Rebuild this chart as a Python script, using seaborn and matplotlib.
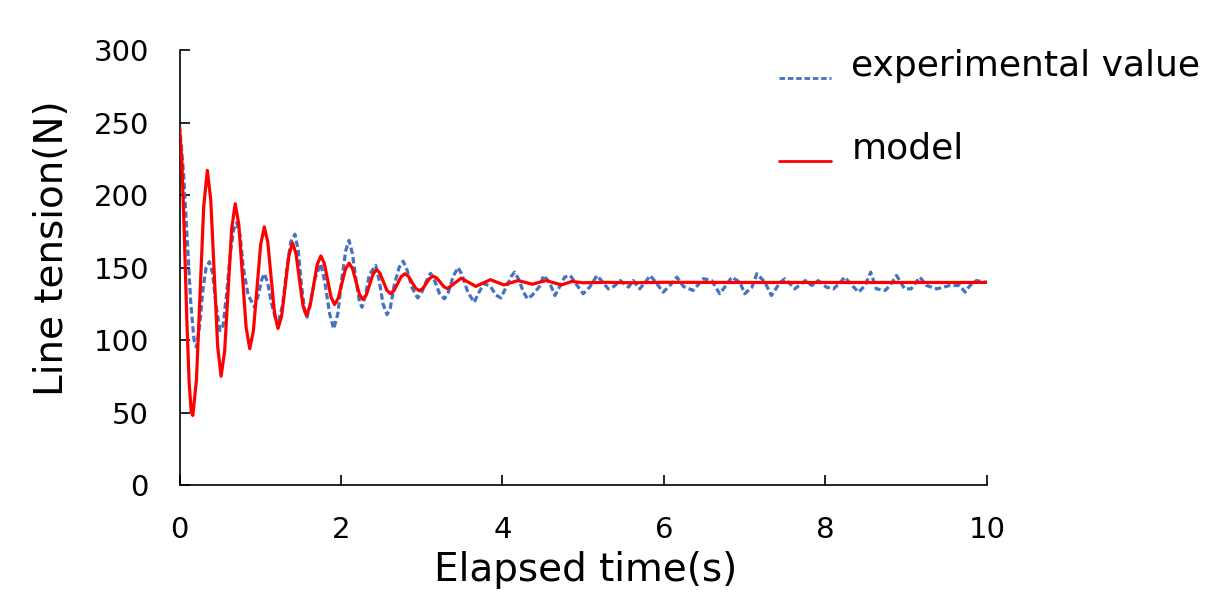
import numpy as np
import pandas as pd
import matplotlib
import matplotlib.pyplot as plt
import matplotlib.transforms as mtransforms
import seaborn as sns

matplotlib.use('Agg')

# model curve (time s, tension N)
model_t = [0.000, 0.030, 0.060, 0.090, 0.120, 0.145, 0.165,
           0.210, 0.255, 0.300, 0.345,
           0.3875, 0.430, 0.4725, 0.515,
           0.559, 0.6025, 0.646, 0.690,
           0.735, 0.780, 0.825, 0.870,
           0.915, 0.960, 1.005, 1.050,
           1.0925, 1.135, 1.1775, 1.220,
           1.265, 1.310, 1.355, 1.400,
           1.4425, 1.485, 1.5275, 1.570,
           1.615, 1.660, 1.705, 1.750,
           1.7925, 1.835, 1.8775, 1.920,
           1.965, 2.010, 2.055, 2.100,
           2.1425, 2.185, 2.2275, 2.270,
           2.3125, 2.355, 2.3975, 2.440,
           2.4825, 2.525, 2.5675, 2.610,
           2.655, 2.700, 2.745, 2.790,
           2.835, 2.880, 2.925, 2.970,
           3.0125, 3.055, 3.0975, 3.140,
           3.185, 3.230, 3.275, 3.320,
           3.405, 3.490, 3.580, 3.670, 3.760, 3.850, 3.935, 4.020,
           4.105, 4.190, 4.280, 4.370, 4.455, 4.540, 4.635, 4.730,
           4.795, 4.860, 5.000, 5.300, 5.600, 6.000, 7.000, 8.000, 9.000, 10.000]
model_n = [247, 222, 172, 115, 70, 51, 48,
           72.7, 132.5, 192.3, 217,
           196.3, 146, 95.7, 75,
           92.4, 134.5, 176.6, 194,
           179.4, 144, 108.6, 94,
           106.3, 136, 165.7, 178,
           167.8, 143, 118.2, 108,
           116.6, 137.5, 158.4, 167,
           159.7, 142, 124.3, 117,
           123, 137.5, 152, 158,
           153.1, 141.2, 129.4, 124.5,
           128.7, 138.8, 148.8, 153,
           149.3, 140.5, 131.7, 128,
           131, 138.2, 145.5, 148.5,
           146.1, 140.2, 134.4, 132,
           134, 138.8, 143.7, 145.7,
           144, 139.8, 135.7, 134,
           135.5, 139, 142.5, 144,
           142.8, 139.8, 136.7, 135.5,
           139.1, 142.7, 139.8, 137, 139.3, 141.6, 139.8, 138,
           139.5, 141, 139.8, 138.5, 139.8, 141, 139.5, 138,
           139.2, 140.4, 139.5, 139.8, 139.5, 139.8, 139.7, 139.7, 139.7, 139.7]

# measured tension
exp_t = [0.00, 0.05, 0.10, 0.14, 0.18, 0.21, 0.25, 0.29, 0.33, 0.37,
         0.41, 0.45, 0.50, 0.54, 0.58, 0.63, 0.67, 0.71, 0.75, 0.79,
         0.85, 0.93, 0.98, 1.02, 1.05, 1.09, 1.14, 1.19, 1.23, 1.28,
         1.33, 1.38, 1.43, 1.47, 1.51, 1.55, 1.58, 1.63, 1.68, 1.75,
         1.80, 1.86, 1.91, 1.96, 2.01, 2.06, 2.10, 2.14, 2.19, 2.23,
         2.26, 2.30, 2.35, 2.43, 2.47, 2.52, 2.57, 2.61, 2.66, 2.72,
         2.77, 2.82, 2.88, 2.95, 3.00, 3.05, 3.11, 3.16, 3.22, 3.28,
         3.33, 3.39, 3.45, 3.50, 3.57, 3.65, 3.70, 3.77, 3.85, 3.92,
         3.98, 4.05, 4.11, 4.15, 4.20, 4.26, 4.31, 4.37, 4.46, 4.51,
         4.58, 4.65, 4.71, 4.77, 4.84, 4.92, 5.00, 5.08, 5.17, 5.24,
         5.31, 5.38, 5.46, 5.56, 5.62, 5.70, 5.77, 5.83, 5.91, 5.99,
         6.08, 6.16, 6.24, 6.36, 6.49, 6.59, 6.69, 6.76, 6.84, 6.94,
         7.00, 7.09, 7.15, 7.25, 7.33, 7.44, 7.50, 7.62, 7.75, 7.83,
         7.91, 8.01, 8.10, 8.17, 8.24, 8.31, 8.41, 8.49, 8.56, 8.63,
         8.74, 8.80, 8.88, 8.98, 9.06, 9.17, 9.25, 9.38, 9.54, 9.66,
         9.73, 9.79, 9.87, 9.98, 10.00]
exp_n = [248, 215, 165, 125, 100, 95, 110, 135, 150, 154,
         146, 125, 106.5, 110, 130, 160, 176, 181, 172, 150,
         131, 122.6, 132, 142, 145.7, 140, 125, 115, 113.4, 125,
         150, 168, 173, 162, 138, 120, 115.7, 128, 143, 152.6,
         140, 118, 107.7, 118, 142, 162, 168.7, 160, 140, 126,
         122.6, 130, 145, 151.5, 142, 125, 117.5, 122, 138, 150,
         154.4, 148, 136, 129, 133, 140, 146, 141, 132, 128.4,
         133, 144, 150, 145, 133, 126, 132, 139, 137, 131,
         129, 137, 144, 146.8, 142, 133, 128.4, 131, 137, 144.5,
         140, 130.7, 137, 143.4, 144.5, 138, 131.9, 136.5, 144.5, 140,
         135.3, 137, 141, 136.5, 141, 135.3, 140, 144.5, 139, 133,
         138, 143.4, 137, 134.2, 142.3, 141, 131.9, 137, 143.4, 139.9,
         131.9, 136.5, 145.7, 139.9, 130.7, 139.9, 142.3, 135.3, 141, 137.6,
         141, 136.5, 135.3, 139, 143.4, 138.8, 133, 137.6, 146.8, 135.3,
         134.2, 137.6, 144.5, 135.3, 135.3, 143.4, 137.6, 135.3, 137.6, 137.6,
         133, 137.6, 141, 139.9, 140]

y_ticks = [0, 50, 100, 150, 200, 250, 300]
x_ticks = [0, 2, 4, 6, 8, 10]

sns.set_style('white')
plt.rcParams['font.family'] = ['DejaVu Sans']
plt.rcParams['text.color'] = 'black'
plt.rcParams['axes.labelcolor'] = 'black'

fig = plt.figure(figsize=(12.32, 5.92), dpi=100)
ax = fig.add_axes([0.1457, 0.1807, 0.6554, 0.7348])

df_exp = pd.DataFrame({'t': exp_t, 'n': exp_n})
df_mod = pd.DataFrame({'t': model_t, 'n': model_n})

sns.lineplot(data=df_exp, x='t', y='n', ax=ax, color='#4472C4', linewidth=2.3,
             label='experimental value', zorder=2)
ax.lines[-1].set_dashes((2.0, 1.0))
sns.lineplot(data=df_mod, x='t', y='n', ax=ax, color='#FF0000', linewidth=2.3,
             label='model', zorder=3)

ax.set_xlim(0, 10)
ax.set_ylim(0, 300)
ax.set_xticks(x_ticks)
ax.set_yticks(y_ticks)
ax.tick_params(direction='in', length=7, width=1.2, colors='black',
               labelsize=21, bottom=True, left=True)
ax.tick_params(axis='y', pad=22)
ax.tick_params(axis='x', pad=22)
for s in ['top', 'right']:
    ax.spines[s].set_visible(False)
for s in ['left', 'bottom']:
    ax.spines[s].set_color('black')
    ax.spines[s].set_linewidth(1.2)

ax.set_xlabel('Elapsed time(s)', fontsize=28)
ax.set_ylabel('Line tension(N)', fontsize=28)
ax.xaxis.set_label_coords(0.503, -0.152)
ax.yaxis.set_label_coords(-0.134, 0.545)

leg = ax.legend(loc='upper left', bbox_to_anchor=(0.606, 0.972),
                bbox_transform=fig.transFigure, frameon=False, fontsize=26,
                handlelength=1.45, handletextpad=0.55, labelspacing=1.35)
for t in leg.get_texts():
    t.set_color('black')
# legend lines sit low, near the text baseline
shift = mtransforms.ScaledTranslation(0, -0.15, fig.dpi_scale_trans)
for h in leg.get_lines():
    h.set_linewidth(2.0)
    h.set_transform(h.get_transform() + shift)

fig.savefig('out.png', dpi=100)
plt.close()
